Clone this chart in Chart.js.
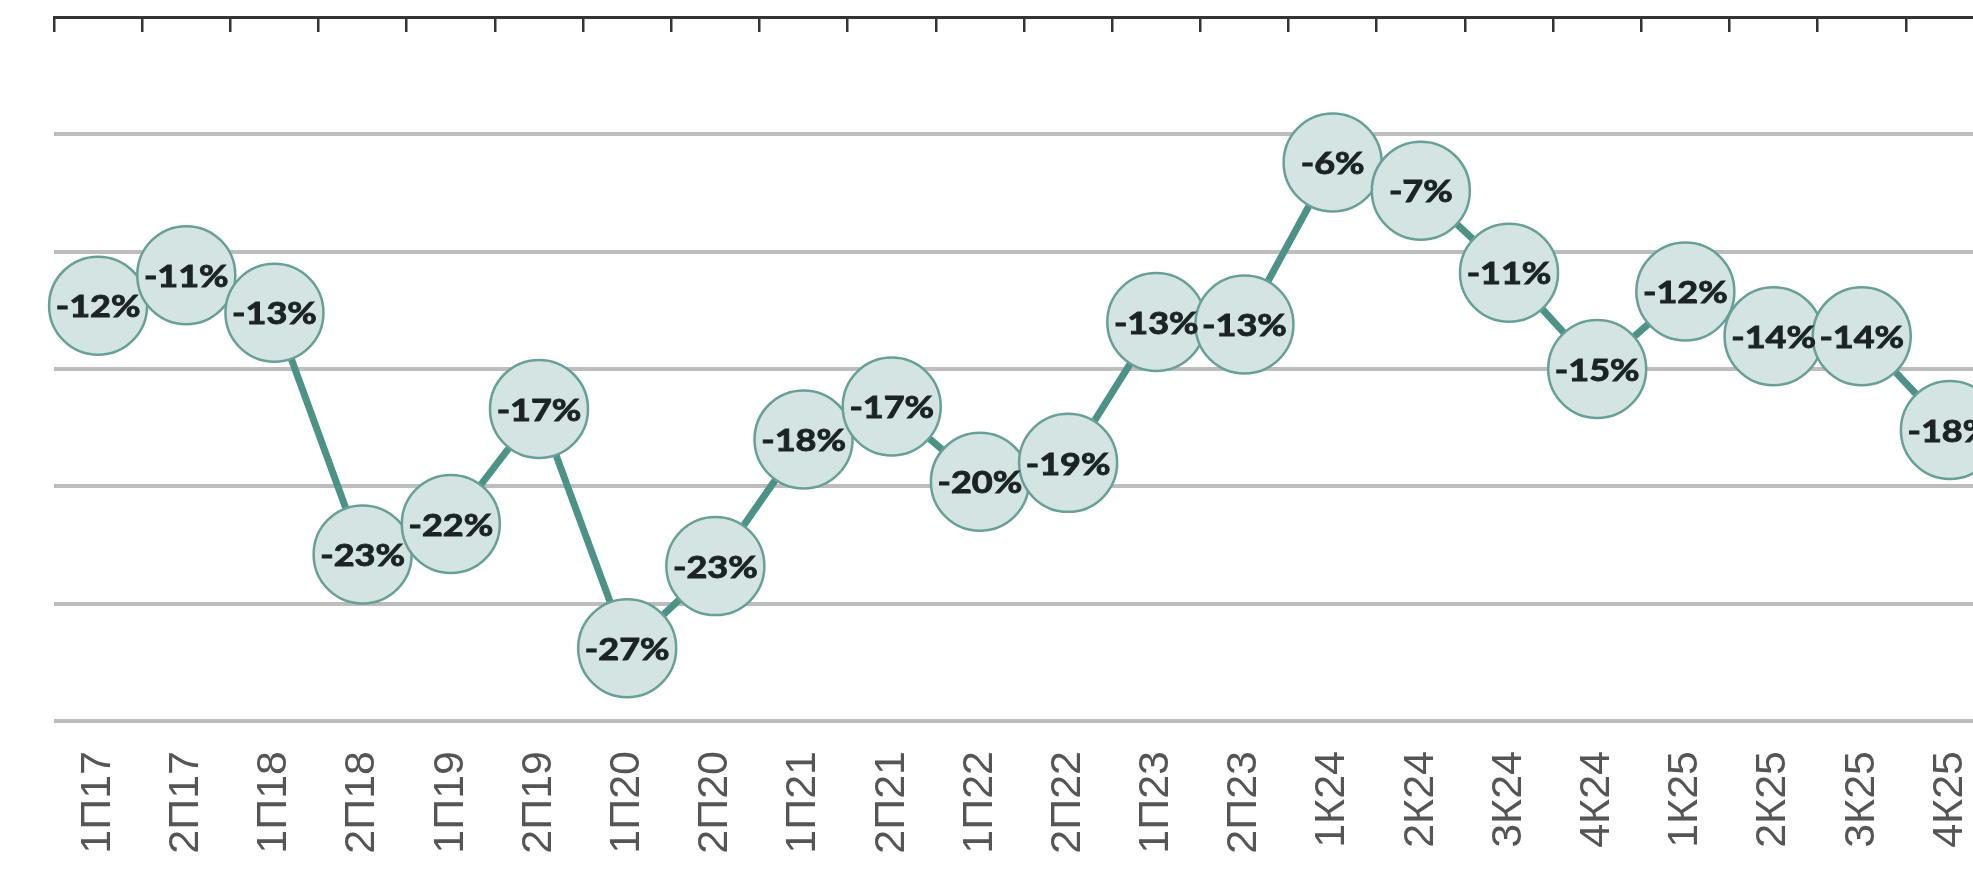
<!DOCTYPE html>
<html>
<head>
<meta charset="utf-8">
<script src="https://cdn.jsdelivr.net/npm/chart.js@4.4.1/dist/chart.umd.min.js"></script>
<style>
  html, body { margin: 0; padding: 0; background: #fff; overflow: hidden; }
  #wrap { width: 1973px; height: 869px; overflow: hidden; }
</style>
</head>
<body>
<div id="wrap"><canvas id="gapChart" width="2000" height="869" style="width:2000px;height:869px"></canvas></div>
<script>
// Periods on the x axis
const periods = ['1П17', '2П17', '1П18', '2П18', '1П19', '2П19', '1П20', '2П20', '1П21', '2П21', '1П22',
  '2П22', '1П23', '2П23', '1К24', '2К24', '3К24', '4К24', '1К25', '2К25', '3К25', '4К25'];

// Values (percent)
const gapValues = [-12.3, -11.0, -12.6, -22.9, -21.6, -16.7, -26.9, -23.4, -18.0, -16.6, -19.8,
  -19.0, -13.0, -13.1, -6.2, -7.4, -10.9, -15.0, -11.7, -13.6, -13.6, -17.6];

// Texts inside the circles
const pointLabels = ['-12%', '-11%', '-13%', '-23%', '-22%', '-17%', '-27%', '-23%', '-18%', '-17%', '-20%',
  '-19%', '-13%', '-13%', '-6%', '-7%', '-11%', '-15%', '-12%', '-14%', '-14%', '-18%'];

const yMin = -30;
const yMax = 0;
const yStep = 5;

// Draws the value text on top of every circle
const pointLabelPlugin = {
  id: 'pointLabels',
  afterDatasetsDraw(chart) {
    const ctx = chart.ctx;
    const meta = chart.getDatasetMeta(0);
    ctx.save();
    ctx.font = 'bold 30px Lato';
    ctx.fillStyle = '#1b2324';
    ctx.strokeStyle = '#1b2324';
    ctx.lineWidth = 0.9;
    ctx.textAlign = 'center';
    ctx.textBaseline = 'middle';
    meta.data.forEach((pt, i) => {
      ctx.save();
      ctx.translate(pt.x, pt.y + 2);
      ctx.scale(1.2, 1);
      ctx.fillText(pointLabels[i], 0, 0);
      ctx.strokeText(pointLabels[i], 0, 0);
      ctx.restore();
    });
    ctx.restore();
  }
};

// No extra side padding for the category axes
const noSidePadding = (scale, h) => {
  scale.height = h;
  scale.paddingLeft = 0;
  scale.paddingRight = 0;
};

const ctx = document.getElementById('gapChart').getContext('2d');

new Chart(ctx, {
  type: 'line',
  data: {
    labels: periods,
    datasets: [{
      data: gapValues,
      xAxisID: 'x',
      yAxisID: 'y',
      borderColor: '#4d9287',
      borderWidth: 7,
      pointRadius: 49,
      pointHoverRadius: 49,
      pointBackgroundColor: '#d4e4e2',
      pointBorderColor: '#689f97',
      pointBorderWidth: 2.5,
      tension: 0,
      clip: false,
    }],
  },
  options: {
    responsive: false,
    animation: false,
    devicePixelRatio: 1,
    layout: {
      autoPadding: false,
      padding: { left: 54, right: 6, top: 0, bottom: 0 },
    },
    plugins: {
      legend: { display: false },
      tooltip: { enabled: false },
    },
    scales: {
      x: {
        type: 'category',
        position: 'bottom',
        offset: true,
        grid: { display: false, drawTicks: false },
        border: { display: false },
        ticks: {
          minRotation: 90,
          maxRotation: 90,
          padding: 30,
          color: '#555',
          font: { family: 'Liberation Sans', size: 43 },
        },
        afterFit: (scale) => noSidePadding(scale, 148),
      },
      x2: {
        type: 'category',
        position: 'top',
        offset: true,
        grid: {
          offset: true,
          drawOnChartArea: false,
          drawTicks: true,
          tickLength: -15,
          color: '#333',
          lineWidth: 2.5,
        },
        border: { display: true, color: '#333', width: 3 },
        ticks: { display: false },
        afterFit: (scale) => noSidePadding(scale, 17),
      },
      y: {
        min: yMin,
        max: yMax,
        ticks: { display: false, stepSize: yStep },
        border: { display: false },
        grid: {
          drawTicks: false,
          color: (c) => (c.tick && c.tick.value === 0 ? 'rgba(0,0,0,0)' : '#bdbdbd'),
          lineWidth: 4,
        },
        afterFit: (scale) => { scale.width = 0; },
      },
    },
  },
  plugins: [pointLabelPlugin],
});
</script>
</body>
</html>
